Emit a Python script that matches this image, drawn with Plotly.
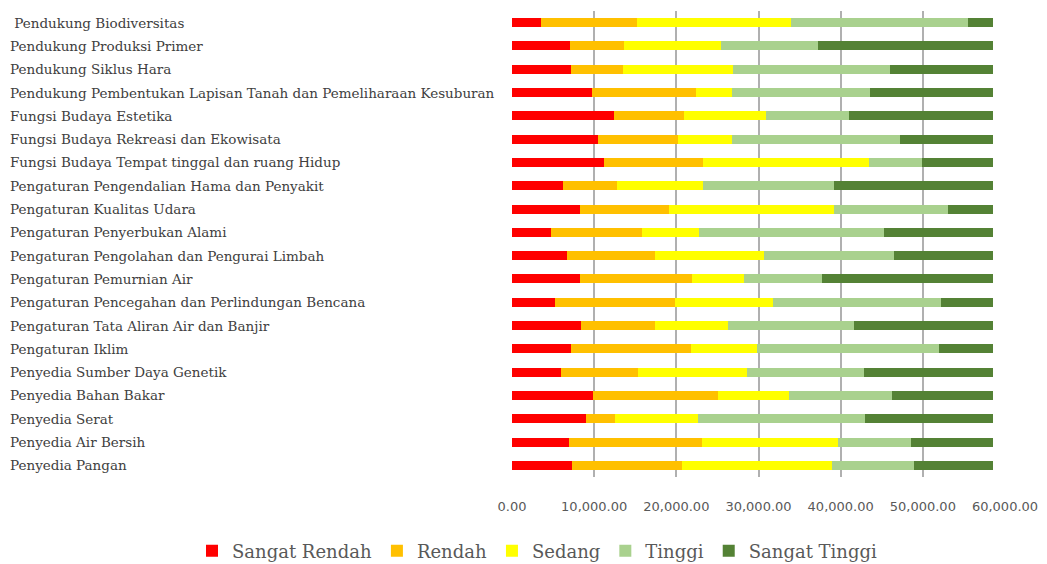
import plotly.graph_objects as go

categories = [
    "Pendukung Biodiversitas",
    "Pendukung Produksi Primer",
    "Pendukung Siklus Hara",
    "Pendukung Pembentukan Lapisan Tanah dan Pemeliharaan Kesuburan",
    "Fungsi Budaya Estetika",
    "Fungsi Budaya Rekreasi dan Ekowisata",
    "Fungsi Budaya Tempat tinggal dan ruang Hidup",
    "Pengaturan Pengendalian Hama dan Penyakit",
    "Pengaturan Kualitas Udara",
    "Pengaturan Penyerbukan Alami",
    "Pengaturan Pengolahan dan Pengurai Limbah",
    "Pengaturan Pemurnian Air",
    "Pengaturan Pencegahan dan Perlindungan Bencana",
    "Pengaturan Tata Aliran Air dan Banjir",
    "Pengaturan Iklim",
    "Penyedia Sumber Daya Genetik",
    "Penyedia Bahan Bakar",
    "Penyedia Serat",
    "Penyedia Air Bersih",
    "Penyedia Pangan",
]

sangat_rendah = [3563, 7085, 7166, 9757, 12429, 10526, 11255, 6154, 8219, 4777,
                 6680, 8219, 5263, 8421, 7126, 5992, 9798, 8988, 6883, 7287]
rendah = [11619, 6559, 6397, 12632, 8462, 9676, 12024, 6599, 10931, 11093,
          10729, 13643, 14575, 8988, 14655, 9393, 15303, 3563, 16194, 13442]
sedang = [18826, 11741, 13360, 4332, 10000, 6519, 20162, 10526, 20040, 6883,
          13239, 6357, 11943, 8826, 7976, 13238, 8624, 10040, 16599, 18259]
tinggi = [21458, 11862, 19028, 16882, 10121, 20445, 6478, 15871, 13927, 22470,
          15830, 9554, 20446, 15384, 22186, 14171, 12510, 20324, 8907, 9919]
sangat_tinggi = [3036, 21255, 12551, 14899, 17490, 11336, 8583, 19352, 5385, 13279,
                 12024, 20729, 6275, 16883, 6559, 15708, 12267, 15587, 9919, 9595]

series = [
    ("Sangat Rendah", sangat_rendah, "#FF0000"),
    ("Rendah", rendah, "#FFC000"),
    ("Sedang", sedang, "#FFFF00"),
    ("Tinggi", tinggi, "#A9D18E"),
    ("Sangat Tinggi", sangat_tinggi, "#548235"),
]

tick_vals = [0, 10000, 20000, 30000, 40000, 50000, 60000]

W, H = 1047, 564
ML, MR, MT, MB = 512, 42, 11, 87
PW = W - ML - MR
PH = H - MT - MB

fig = go.Figure()
for name, vals, color in series:
    fig.add_trace(go.Bar(
        y=categories, x=vals, name=name, orientation="h",
        marker=dict(color=color, line=dict(width=0)),
    ))

label_font = "DejaVu Serif"
for i, c in enumerate(categories):
    fig.add_annotation(
        x=(8 - ML) / PW, xref="paper", xanchor="left",
        y=c, yref="y", yanchor="middle",
        text=(" " + c) if i == 0 else c, showarrow=False,
        font=dict(family=label_font, size=13.5, color="#404040"),
    )

fig.update_layout(
    width=W, height=H,
    barmode="stack", bargap=0.61,
    plot_bgcolor="white", paper_bgcolor="white",
    margin=dict(l=ML, r=MR, t=MT, b=MB, autoexpand=False),
    xaxis=dict(
        range=[0, 60000], tickvals=tick_vals, tickformat=",.2f",
        showgrid=True, gridcolor="#b0b0b0", gridwidth=2,
        zeroline=False, showline=False, ticks="",
        ticklabelstandoff=20,
        tickfont=dict(family="DejaVu Sans", size=13, color="#595959"),
    ),
    yaxis=dict(
        autorange="reversed", showticklabels=False, showgrid=False,
        zeroline=False, showline=False, ticks="",
    ),
    legend=dict(
        orientation="h", x=(192 - ML) / PW, xref="paper", xanchor="left",
        y=(H - MB - 551) / PH, yref="paper", yanchor="middle",
        font=dict(family=label_font, size=18, color="#595959"),
        traceorder="normal",
    ),
    showlegend=True,
)

fig.write_html("out.html", config={"displayModeBar": False},
               post_script="document.body.style.margin='0';")
